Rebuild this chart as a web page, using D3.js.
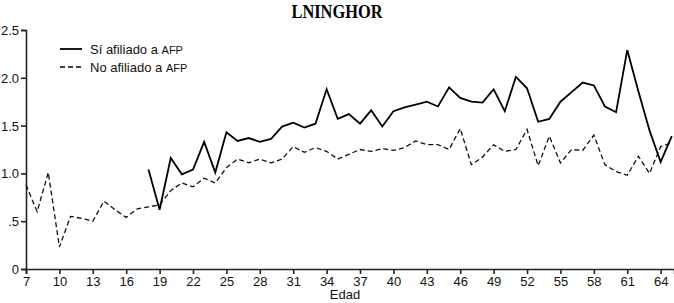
<!DOCTYPE html>
<html>
<head>
<meta charset="utf-8">
<script src="https://cdn.jsdelivr.net/npm/d3@7"></script>
<style>
  body { margin: 0; background: #fff; }
  svg { display: block; }
</style>
</head>
<body>
<svg width="674" height="303"></svg>
<script>
// edades y valores
var agesAfil = d3.range(18, 66);
var afiliado = [1.04, 0.62, 1.16, 0.99, 1.04, 1.33, 1.01, 1.43, 1.34, 1.37,
    1.33, 1.36, 1.49, 1.53, 1.48, 1.52, 1.88, 1.57, 1.62, 1.52,
    1.66, 1.49, 1.65, 1.69, 1.72, 1.75, 1.70, 1.90, 1.79, 1.75,
    1.74, 1.88, 1.65, 2.01, 1.89, 1.54, 1.57, 1.75, 1.85, 1.95,
    1.92, 1.70, 1.64, 2.29, 1.86, 1.45, 1.12, 1.39];

var agesNo = d3.range(7, 66);
var noAfiliado = [0.88, 0.60, 1.01, 0.23, 0.55, 0.53, 0.50, 0.71, 0.62, 0.54,
    0.63, 0.65, 0.67, 0.82, 0.90, 0.86, 0.95, 0.90, 1.06, 1.15,
    1.11, 1.15, 1.11, 1.15, 1.28, 1.22, 1.27, 1.23, 1.15, 1.20,
    1.25, 1.23, 1.26, 1.24, 1.27, 1.34, 1.30, 1.30, 1.25, 1.47,
    1.09, 1.17, 1.30, 1.23, 1.25, 1.46, 1.08, 1.39, 1.11, 1.25,
    1.24, 1.40, 1.09, 1.02, 0.98, 1.18, 1.00, 1.28, 1.32];

var xTicks = d3.range(7, 65, 3);
var yTicks = [0, 0.5, 1, 1.5, 2, 2.5];

var svg = d3.select("svg");

var x = d3.scaleLinear().domain([7, 65.2]).range([26, 674]);
var y = d3.scaleLinear().domain([0, 2.5]).range([269, 30]);

var font = "'Liberation Sans', Arial, sans-serif";

// titulo
svg.append("text")
    .attr("x", 337).attr("y", 18)
    .attr("text-anchor", "middle")
    .attr("textLength", 91)
    .attr("lengthAdjust", "spacingAndGlyphs")
    .style("font-family", "'Liberation Serif', 'Times New Roman', serif")
    .style("font-weight", "bold")
    .style("font-size", "19px")
    .text("LNINGHOR");

// ejes
var xAxis = svg.append("g")
    .attr("transform", "translate(0,269)")
    .call(d3.axisBottom(x).tickValues(xTicks).tickSizeOuter(0).tickSize(5).tickPadding(3)
        .tickFormat(d3.format("d")));

var yAxis = svg.append("g")
    .attr("transform", "translate(26,0)")
    .call(d3.axisLeft(y).tickValues(yTicks).tickSizeOuter(0).tickSize(5).tickPadding(2)
        .tickFormat(function(d) {
            if (d === 0) return "0";
            if (d === 0.5) return ".5";
            return d.toFixed(1);
        }));

[xAxis, yAxis].forEach(function(a) {
    a.selectAll("path, line").attr("stroke", "#222").attr("stroke-width", 1.6);
    a.selectAll("text").attr("fill", "#111").style("font-family", font).style("font-size", "13px");
});
yAxis.selectAll("text").attr("dy", "0.35em");

svg.append("text")
    .attr("x", 345).attr("y", 299)
    .attr("text-anchor", "middle")
    .style("font-family", font)
    .style("font-size", "13px")
    .attr("fill", "#111")
    .text("Edad");

// lineas
var lineNo = d3.line()
    .x(function(d, i) { return x(agesNo[i]); })
    .y(function(d) { return y(d); });

var lineAfil = d3.line()
    .x(function(d, i) { return x(agesAfil[i]); })
    .y(function(d) { return y(d); });

svg.append("path")
    .datum(noAfiliado)
    .attr("d", lineNo)
    .attr("fill", "none")
    .attr("stroke", "#111")
    .attr("stroke-width", 1.3)
    .attr("stroke-dasharray", "5,3");

svg.append("path")
    .datum(afiliado)
    .attr("d", lineAfil)
    .attr("fill", "none")
    .attr("stroke", "#000")
    .attr("stroke-width", 1.8)
    .attr("stroke-linejoin", "miter");

// leyenda
var legend = [
    { label: "Sí afiliado a ", dash: null, w: 1.8, y: 49 },
    { label: "No afiliado a ", dash: "5,3", w: 1.3, y: 67 }
];

var lg = svg.append("g").selectAll("g")
    .data(legend)
    .enter().append("g")
    .attr("transform", function(d) { return "translate(0," + d.y + ")"; });

lg.append("line")
    .attr("x1", 60).attr("x2", 82)
    .attr("stroke", "#000")
    .attr("stroke-width", function(d) { return d.w; })
    .attr("stroke-dasharray", function(d) { return d.dash; });

var lt = lg.append("text")
    .attr("x", 90).attr("dy", "0.36em")
    .style("font-family", font)
    .style("font-size", "13px")
    .attr("fill", "#111");
lt.append("tspan").text(function(d) { return d.label; });
lt.append("tspan").style("font-size", "11px").text("AFP");
</script>
</body>
</html>
